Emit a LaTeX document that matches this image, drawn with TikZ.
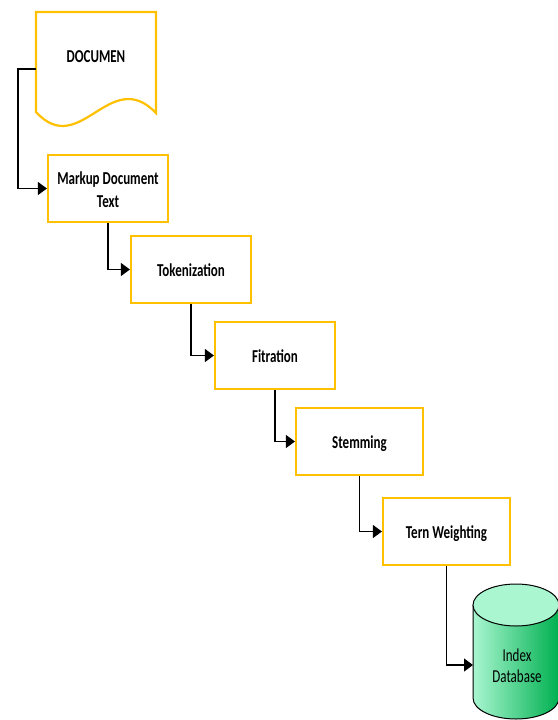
\documentclass[tikz,border=0pt]{standalone}
\usepackage{fontspec}
\setmainfont{Carlito}
\usetikzlibrary{arrows.meta}
\definecolor{boxgold}{HTML}{FFC000}
\definecolor{dblight}{HTML}{A9F6D0}
\definecolor{dbdark}{HTML}{00B050}
\newcommand{\tall}[1]{\scalebox{1}[1.4]{\begin{tabular}{@{}c@{}}#1\end{tabular}}}
\newcommand{\tallbox}[1]{\raisebox{0pt}[\dimexpr\height+6pt][\depth]{\tall{#1}}}
\begin{document}
\begin{tikzpicture}[x=1pt,y=-1pt,
  proc/.style={draw=boxgold,line width=2.2pt,minimum height=67pt,inner sep=0pt,font=\bfseries\fontsize{13}{16}\selectfont},
  link/.style={line width=1.2pt,-{Triangle[length=9pt,width=13pt]}}]
\useasboundingbox (0,0) rectangle (557,720);
\def\rx{43pt};
\def\ry{21pt};
% document sheet
\draw[draw=boxgold,line width=2.2pt] (36,12) -- (156,12) -- (156,113) .. controls (110,65) and (80,160) .. (36,112) -- cycle;
\node[font=\bfseries\fontsize{13}{16}\selectfont] (doc) at (96,58) {\tall{DOCUMEN}};
\coordinate (docout) at (36,69);
% steps
\node[proc,minimum width=120pt] (mk) at (108,188.5) {\tallbox{Markup Document\\Text}};
\node[proc,minimum width=120pt] (tok) at (191,269.5) {\tallbox{Tokenization}};
\node[proc,minimum width=120pt] (fit) at (275,355.5) {\tallbox{Fitration}};
\node[proc,minimum width=127pt] (stem) at (359.5,441.5) {\tallbox{Stemming}};
\node[proc,minimum width=127pt] (tern) at (446.5,531.5) {\tallbox{Tern Weighting}};
% database
\shade[left color=dblight,middle color=dblight!85!dbdark,right color=dbdark] (473,605) -- (473,698) arc[start angle=180,end angle=360,x radius=\rx,y radius=\ry] -- (559,605) arc[start angle=0,end angle=180,x radius=\rx,y radius=\ry] -- cycle;
\draw[line width=1pt] (473,605) -- (473,698) arc[start angle=180,end angle=360,x radius=\rx,y radius=\ry] -- (559,605);
\filldraw[fill=dblight,line width=1pt] (516,605) ellipse[x radius=\rx,y radius=\ry];
\node[font=\fontsize{13}{15}\selectfont] (db) at (517,668) {\tall{Index\\Database}};
\coordinate (dbin) at (473,665);
% connectors
\draw[link] (docout) -- ++(-18,0) |- (mk.west);
\draw[link] (mk.south) |- (tok.west);
\draw[link] (tok.south) |- (fit.west);
\draw[link] (fit.south) |- (stem.west);
\draw[link] (stem.south) |- (tern.west);
\draw[link] (tern.south) |- (dbin);
\end{tikzpicture}
\end{document}
